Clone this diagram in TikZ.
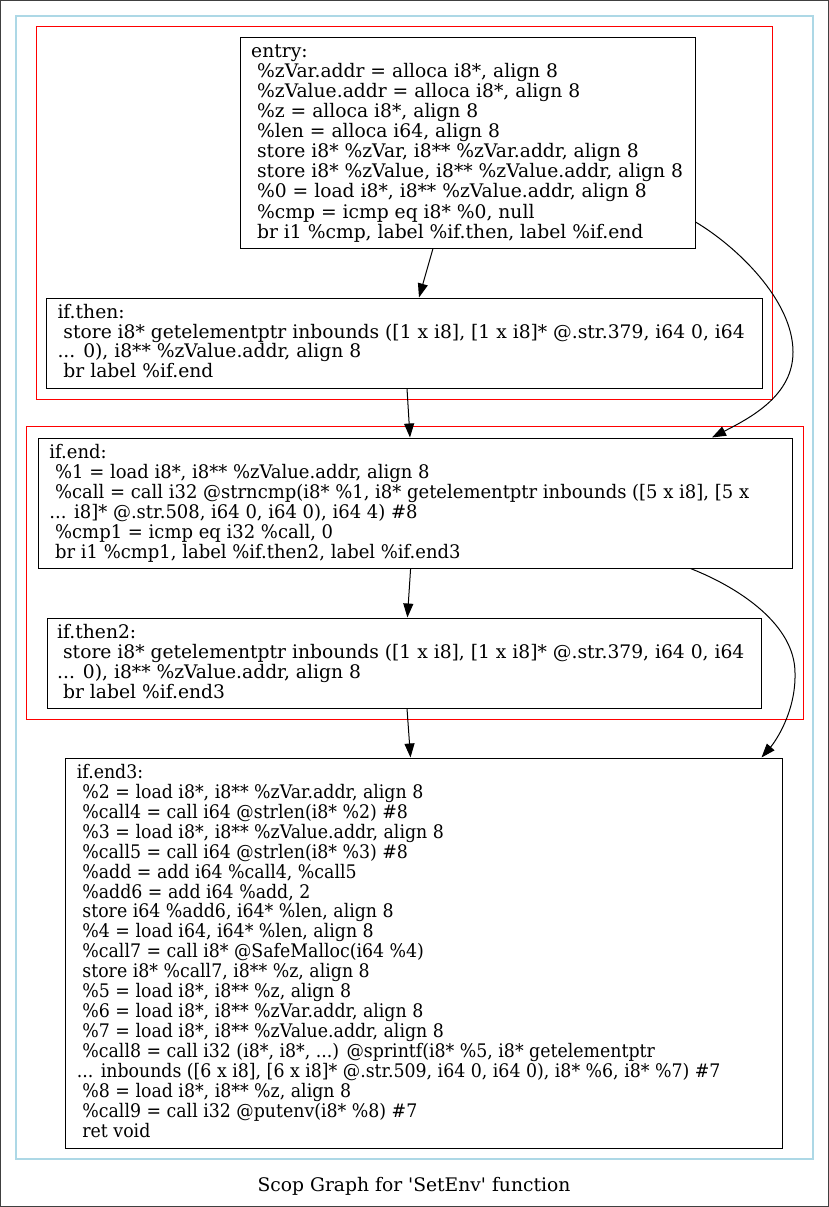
\documentclass[tikz,border=0pt]{standalone}
\usepackage{fontspec}
\setmainfont{DejaVu Serif}
\usetikzlibrary{arrows.meta}
\newcommand\cbox[2]{\vtop{\baselineskip=#1\lineskip=0pt\lineskiplimit=-100pt\relax #2}}
\newcommand\cl[1]{\hbox{#1}}
\definecolor{clblue}{RGB}{173,216,230}
\tikzset{
  blk/.style={draw=black, line width=1pt, rectangle, inner sep=0pt, fill=white},
  txt/.style={anchor=base west, inner sep=0pt, font=\fontsize{18.7}{20}\selectfont},
  arr/.style={-{Triangle[length=14pt,width=10pt]}, line width=1pt, black},
  redcl/.style={draw=red, line width=1pt},
  bluecl/.style={draw=clblue, line width=1.2pt}
}
\begin{document}
\begin{tikzpicture}[x=1pt,y=-1pt]
\useasboundingbox (0,0) rectangle (829,1207);
\draw[black!75, line width=1pt] (0.5,0.5) rectangle (828.5,1206.5);
\draw[bluecl] (16,16) rectangle (813,1159);
\draw[redcl] (36,27) rectangle (772,399);
\draw[redcl] (26,426) rectangle (803,719);

\node[blk, minimum width=455pt, minimum height=210pt] (entry) at (467.5,143) {};
\node[blk, minimum width=716pt, minimum height=90pt] (ifthen) at (404,343) {};
\node[blk, minimum width=754pt, minimum height=130pt] (ifend) at (415,503) {};
\node[blk, minimum width=714pt, minimum height=90pt] (ifthentwo) at (404,663) {};
\node[blk, minimum width=717pt, minimum height=390pt] (ifendthree) at (423.5,953) {};

\node[txt] (entryT) at (251,57.3) {\cbox{20.1pt}{%
\cl{entry:}
\cl{\ \%zVar.addr = alloca i8*, align 8}
\cl{\ \%zValue.addr = alloca i8*, align 8}
\cl{\ \%z = alloca i8*, align 8}
\cl{\ \%len = alloca i64, align 8}
\cl{\ store i8* \%zVar, i8** \%zVar.addr, align 8}
\cl{\ store i8* \%zValue, i8** \%zValue.addr, align 8}
\cl{\ \%0 = load i8*, i8** \%zValue.addr, align 8}
\cl{\ \%cmp = icmp eq i8* \%0, null}
\cl{\ br i1 \%cmp, label \%if.then, label \%if.end}}};

\node[txt] (ifthenT) at (57.3,318.3) {\cbox{19.7pt}{%
\cl{if.then:}
\cl{\ store i8* getelementptr inbounds ([1 x i8], [1 x i8]* @.str.379, i64 0, i64}
\cl{... 0), i8** \%zValue.addr, align 8}
\cl{\ br label \%if.end}}};

\node[txt] (ifendT) at (49.2,458.3) {\scalebox{0.961}[1]{\cbox{20pt}{%
\cl{if.end:}
\cl{\ \%1 = load i8*, i8** \%zValue.addr, align 8}
\cl{\ \%call = call i32 @strncmp(i8* \%1, i8* getelementptr inbounds ([5 x i8], [5 x}
\cl{... i8]* @.str.508, i64 0, i64 0), i64 4) \#8}
\cl{\ \%cmp1 = icmp eq i32 \%call, 0}
\cl{\ br i1 \%cmp1, label \%if.then2, label \%if.end3}}}};

\node[txt] (ifthentwoT) at (57,638.3) {\cbox{20pt}{%
\cl{if.then2:}
\cl{\ store i8* getelementptr inbounds ([1 x i8], [1 x i8]* @.str.379, i64 0, i64}
\cl{... 0), i8** \%zValue.addr, align 8}
\cl{\ br label \%if.end3}}};

\node[txt] (ifendthreeT) at (76.7,778.3) {\scalebox{0.928}[1]{\cbox{19.95pt}{%
\cl{if.end3:}
\cl{\ \%2 = load i8*, i8** \%zVar.addr, align 8}
\cl{\ \%call4 = call i64 @strlen(i8* \%2) \#8}
\cl{\ \%3 = load i8*, i8** \%zValue.addr, align 8}
\cl{\ \%call5 = call i64 @strlen(i8* \%3) \#8}
\cl{\ \%add = add i64 \%call4, \%call5}
\cl{\ \%add6 = add i64 \%add, 2}
\cl{\ store i64 \%add6, i64* \%len, align 8}
\cl{\ \%4 = load i64, i64* \%len, align 8}
\cl{\ \%call7 = call i8* @SafeMalloc(i64 \%4)}
\cl{\ store i8* \%call7, i8** \%z, align 8}
\cl{\ \%5 = load i8*, i8** \%z, align 8}
\cl{\ \%6 = load i8*, i8** \%zVar.addr, align 8}
\cl{\ \%7 = load i8*, i8** \%zValue.addr, align 8}
\cl{\ \%call8 = call i32 (i8*, i8*, ...) @sprintf(i8* \%5, i8* getelementptr}
\cl{... inbounds ([6 x i8], [6 x i8]* @.str.509, i64 0, i64 0), i8* \%6, i8* \%7) \#7}
\cl{\ \%8 = load i8*, i8** \%z, align 8}
\cl{\ \%call9 = call i32 @putenv(i8* \%8) \#7}
\cl{\ ret void}}}};

\node[anchor=base, inner sep=0pt, font=\fontsize{18.7}{20}\selectfont] (caption) at (414,1191.7) {Scop Graph for \textquotesingle SetEnv\textquotesingle{} function};

\draw[arr] ([xshift=-34.5pt]entry.south) -- ([xshift=15pt]ifthen.north);
\draw[arr] ([xshift=3pt]ifthen.south) -- ([xshift=-5pt]ifend.north);
\draw[arr] ([yshift=-79pt]entry.east) .. controls (736,246) and (793,300) .. (793,352)
  .. controls (793,395) and (752,417) .. ([xshift=297pt]ifend.north);
\draw[arr] ([xshift=-4.4pt]ifend.south) -- ([xshift=3.4pt]ifthentwo.north);
\draw[arr] ([xshift=3pt]ifthentwo.south) -- ([xshift=-13pt]ifendthree.north);
\draw[arr] ([xshift=275.5pt]ifend.south) .. controls (740,588) and (795,625) .. (795,673)
  .. controls (796,712) and (775,742) .. ([xshift=338pt]ifendthree.north);
\end{tikzpicture}
\end{document}
